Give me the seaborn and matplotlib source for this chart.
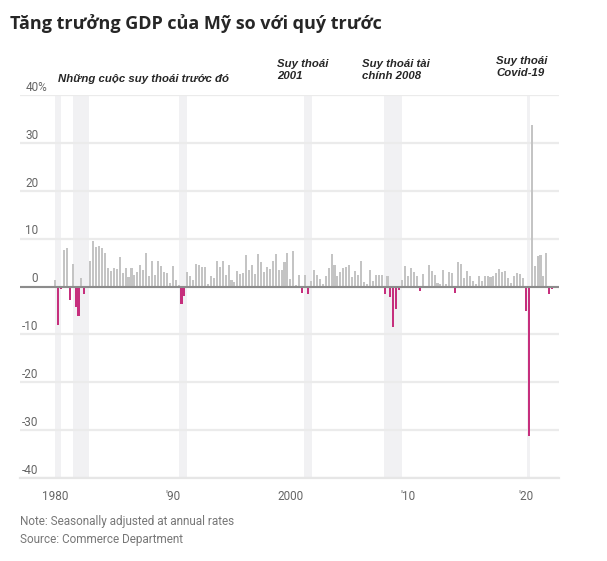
import numpy as np
import pandas as pd
import matplotlib
matplotlib.use('Agg')
import matplotlib.pyplot as plt
import seaborn as sns

# quarterly real GDP growth, % change from previous quarter (annual rate)
gdp_1980s = [1.3, -8.0, -0.5, 7.7, 8.1, -2.9, 4.8, -4.3, -6.1, 1.8, -1.5, 0.2,
             5.4, 9.4, 8.2, 8.5, 8.0, 7.1, 3.9, 3.3, 3.9, 3.6, 6.2, 2.9,
             3.8, 1.9, 3.9, 2.3, 3.0, 4.4, 3.5, 7.0, 2.1, 5.4, 2.3, 5.4,
             4.2, 3.1, 2.9, 0.8]
gdp_1990s = [4.3, 1.4, 0.3, -3.6, -1.9, 3.1, 2.1, 1.4, 4.8, 4.4, 4.0, 4.1,
             0.6, 2.2, 1.8, 5.4, 4.0, 5.4, 2.3, 4.5, 1.4, 1.0, 3.3, 2.7,
             2.9, 6.6, 3.5, 4.4, 2.6, 6.8, 5.1, 3.1, 4.0, 3.7, 5.3, 6.7,
             3.5, 3.4, 5.2, 7.0]
gdp_2000s = [1.5, 7.5, 0.4, 2.3, -1.3, 2.4, -1.6, 1.1, 3.4, 2.5, 1.6, 0.5,
             2.1, 3.8, 6.7, 4.5, 2.2, 3.1, 3.8, 4.1, 4.4, 2.0, 3.2, 2.3,
             5.4, 0.9, 0.6, 3.4, 1.2, 2.4, 2.3, 2.4, -1.6, 2.2, -2.1, -8.5,
             -4.6, -0.7, 1.4, 4.3]
gdp_2010s = [2.1, 3.8, 3.1, 2.1, -1.0, 2.7, -0.1, 4.5, 3.3, 2.4, 0.7, 0.5,
             3.5, 0.6, 3.1, 2.9, -1.4, 5.2, 4.7, 1.7, 3.3, 2.2, 1.2, 0.5,
             2.2, 1.2, 2.2, 2.1, 1.9, 2.2, 2.9, 3.7, 3.1, 3.2, 1.7, 0.8,
             2.1, 2.9, 2.7, 1.7]
gdp_2020s = [-5.1, -31.2, 33.8, 4.3, 6.3, 6.6, 2.2, 6.9, -1.6, -0.6]

# NBER recessions (decimal years)
rec_start = [1980.0, 1981.5, 1990.5, 2001.17, 2007.92, 2020.08]
rec_end = [1980.5, 1982.85, 1991.2, 2001.85, 2009.45, 2020.33]

growth = gdp_1980s + gdp_1990s + gdp_2000s + gdp_2010s + gdp_2020s
quarters = pd.period_range('1980Q1', periods=len(growth), freq='Q')
df = pd.DataFrame({'quarter': quarters.astype(str), 'growth': growth})
df['sign'] = np.where(df['growth'] < 0, 'neg', 'pos')

# bars sit on a categorical axis: one slot per quarter, 1980Q1 = 0
def qpos(year):
    return (np.asarray(year) - 1980) * 4

sns.set_style('white')
plt.rcParams['font.family'] = ['Roboto', 'DejaVu Sans']

W, H = 607, 561
fig = plt.figure(figsize=(W / 100, H / 100), dpi=100)
ax = fig.add_axes([20 / W, 1 - 478 / H, 539 / W, 383 / H])

for s, e in zip(rec_start, rec_end):
    ax.axvspan(qpos(s), qpos(e), color='#f1f1f3', lw=0, zorder=0)

sns.barplot(data=df, x='quarter', y='growth', hue='sign', order=df['quarter'],
            palette={'pos': '#c4c4c4', 'neg': '#c62f7d'}, dodge=False,
            width=0.7, legend=False, saturation=1, linewidth=0,
            edgecolor='none', ax=ax)

ax.axhline(0, color='#8c8c8c', lw=1.5, zorder=3)

ax.set_xlim(qpos(1977.03), qpos(2022.82))
ax.set_ylim(-40, 40)
ax.set_axisbelow(True)
ax.set_yticks(range(-40, 41, 10))
ax.yaxis.grid(True, color='#ebebeb', lw=1.6)
ax.tick_params(axis='y', length=0, labelleft=False)
for sp in ['top', 'right', 'left']:
    ax.spines[sp].set_visible(False)
ax.spines['bottom'].set_color('#e6e6e6')
ax.spines['bottom'].set_linewidth(1.6)

ax.set_xticks(qpos([1980, 1990, 2000, 2010, 2020]))
ax.set_xticklabels(['1980', "'90", '2000', "'10", "'20"])
ax.set_xticks(qpos([y for y in range(1981, 2023) if y % 10]), minor=True)
ax.tick_params(axis='x', which='major', length=5, width=1, color='#555555',
               labelsize=8.5, labelcolor='#666666', pad=4)
ax.tick_params(axis='x', which='minor', length=2.5, width=1, color='#666666')
ax.set_xlabel('')
ax.set_ylabel('')

# y labels sit above the gridlines
for v in range(-40, 41, 10):
    if v == 40:
        lab, x, ha = '40%', 0.011, 'left'
    else:
        lab, x, ha = str(v), 0.034, 'right'
    ax.annotate(lab, xy=(x, v), xycoords=('axes fraction', 'data'),
                xytext=(0, 3), textcoords='offset points', ha=ha,
                va='baseline', fontsize=8.5, color='#666666', annotation_clip=False)

fig.text(10 / W, 1 - 29 / H, 'Tăng trưởng GDP của Mỹ so với quý trước',
         fontsize=13, fontweight='bold', family='Open Sans', va='baseline')

note = dict(fontsize=8.2, fontweight='bold', fontstyle='italic',
            family='Liberation Sans', va='baseline', linespacing=1.3)
fig.text(58 / W, 1 - 82 / H, 'Những cuộc suy thoái trước đó', **note)
fig.text(277 / W, 1 - 79 / H, 'Suy thoái\n2001', **note)
fig.text(362 / W, 1 - 79 / H, 'Suy thoái tài\nchính 2008', **note)
fig.text(496 / W, 1 - 76 / H, 'Suy thoái\nCovid-19', **note)

fig.text(20 / W, 1 - 525 / H, 'Note: Seasonally adjusted at annual rates',
         fontsize=8.5, color='#777777', va='baseline')
fig.text(20 / W, 1 - 543 / H, 'Source: Commerce Department',
         fontsize=8.5, color='#777777', va='baseline')

fig.savefig('out.png', dpi=100)
